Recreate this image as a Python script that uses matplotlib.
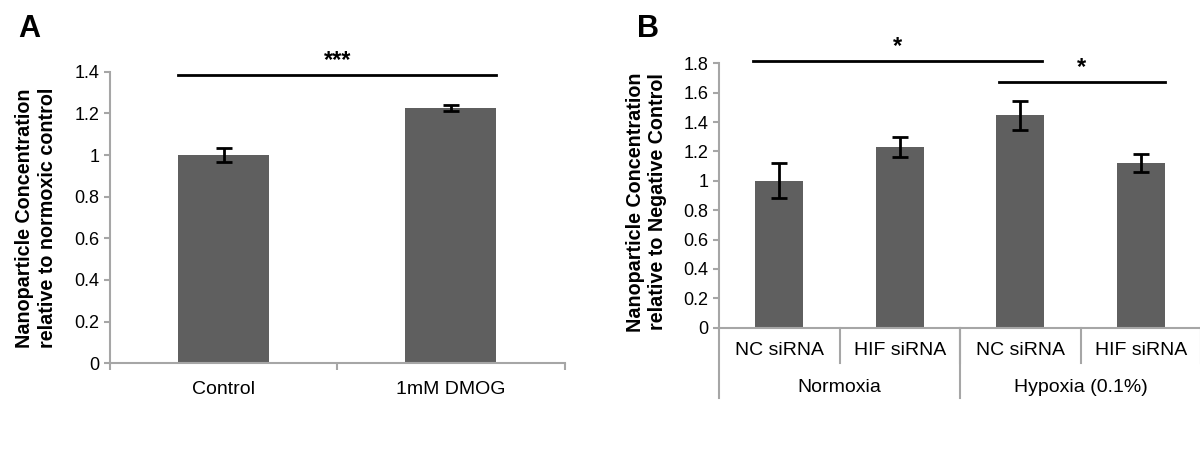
import matplotlib
matplotlib.use("Agg")
import matplotlib.pyplot as plt

plt.rcParams['font.family'] = ['Liberation Sans', 'DejaVu Sans']

# panel A data
a_labels = ["Control", "1mM DMOG"]
a_values = [1.0, 1.225]
a_errors = [0.035, 0.016]

# panel B data
b_labels = ["NC siRNA", "HIF siRNA", "NC siRNA", "HIF siRNA"]
b_groups = ["Normoxia", "Hypoxia (0.1%)"]
b_values = [1.0, 1.23, 1.445, 1.12]
b_errors = [0.12, 0.065, 0.10, 0.062]

BAR = "#5f5f5f"
AXC = "#a6a6a6"
W, H = 1200, 459
FS_TICK = 13
FS_CAT = 14


def px_axes(fig, left, right, top, bottom):
    return fig.add_axes([left / W, (H - bottom) / H, (right - left) / W, (bottom - top) / H])


def style_axes(ax, ymax, step):
    for s in ("top", "right"):
        ax.spines[s].set_visible(False)
    for s in ("left", "bottom"):
        ax.spines[s].set_color(AXC)
        ax.spines[s].set_linewidth(1.5)
    ax.set_ylim(0, ymax)
    ticks = [round(i * step, 1) for i in range(int(round(ymax / step)) + 1)]
    ax.set_yticks(ticks)
    ax.set_yticklabels(["%g" % t for t in ticks])
    ax.tick_params(axis="y", direction="out", length=4.5, width=1.5, color=AXC,
                   labelsize=FS_TICK, pad=3)


def sig_bar(ax, x0, x1, y, text):
    ax.plot([x0, x1], [y, y], color="black", lw=2, clip_on=False)
    ax.annotate(text, xy=((x0 + x1) / 2, y), xytext=(0, 2), textcoords="offset points",
                ha="center", va="bottom", fontsize=17, fontweight="bold",
                annotation_clip=False)


fig = plt.figure(figsize=(W / 100, H / 100), dpi=100)

# ---- Panel A ----
ax = px_axes(fig, 110, 564.5, 71.7, 363.3)
xa = list(range(len(a_values)))
ax.bar(xa, a_values, width=0.4, color=BAR, zorder=2)
ax.errorbar(xa, a_values, yerr=a_errors, fmt="none", ecolor="black", elinewidth=2,
            capsize=5.5, capthick=2, zorder=3)
ax.set_xlim(-0.5, len(a_values) - 0.5)
style_axes(ax, 1.4, 0.2)
ax.set_xticks(xa)
ax.set_xticklabels(a_labels, fontsize=FS_CAT)
ax.tick_params(axis="x", which="major", length=0, pad=13)
ax.set_xticks([i - 0.5 for i in range(len(a_values) + 1)], minor=True)
ax.tick_params(axis="x", which="minor", direction="out", length=5, width=1.5, color=AXC)
sig_bar(ax, -0.2, 1.2, 1.383, "***")
fig.text(36 / W, 1 - 218 / H, "Nanoparticle Concentration\nrelative to normoxic control",
         rotation=90, ha="center", va="center", fontsize=14.2, fontweight="bold", linespacing=1.25)
fig.text(29 / W, 1 - 29 / H, "A", ha="center", va="center", fontsize=22, fontweight="bold")

# ---- Panel B ----
ax = px_axes(fig, 719, 1201, 63.3, 327.7)
xb = list(range(len(b_values)))
ax.bar(xb, b_values, width=0.4, color=BAR, zorder=2)
ax.errorbar(xb, b_values, yerr=b_errors, fmt="none", ecolor="black", elinewidth=2,
            capsize=5.5, capthick=2, zorder=3)
ax.set_xlim(-0.5, len(b_values) - 0.5)
style_axes(ax, 1.8, 0.2)
ax.set_xticks([])
tr = ax.get_xaxis_transform()
for i, lab in enumerate(b_labels):
    ax.text(i, -0.088, lab, transform=tr, ha="center", va="center", fontsize=FS_CAT)
    ax.plot([i + 0.5, i + 0.5], [0, -0.132], transform=tr, color=AXC, lw=1.5, clip_on=False)
for g, lab in enumerate(b_groups):
    ax.text(2 * g + 0.5, -0.228, lab, transform=tr, ha="center", va="center", fontsize=FS_CAT)
    ax.plot([2 * g - 0.5, 2 * g - 0.5], [0, -0.265], transform=tr, color=AXC, lw=1.5, clip_on=False)
sig_bar(ax, -0.22, 2.18, 1.818, "*")
sig_bar(ax, 1.82, 3.2, 1.675, "*")
fig.text(646.5 / W, 1 - 202 / H, "Nanoparticle Concentration\nrelative to Negative Control",
         rotation=90, ha="center", va="center", fontsize=14.2, fontweight="bold", linespacing=1.25)
fig.text(648 / W, 1 - 29 / H, "B", ha="center", va="center", fontsize=22, fontweight="bold")

fig.savefig("out.png", dpi=100)
